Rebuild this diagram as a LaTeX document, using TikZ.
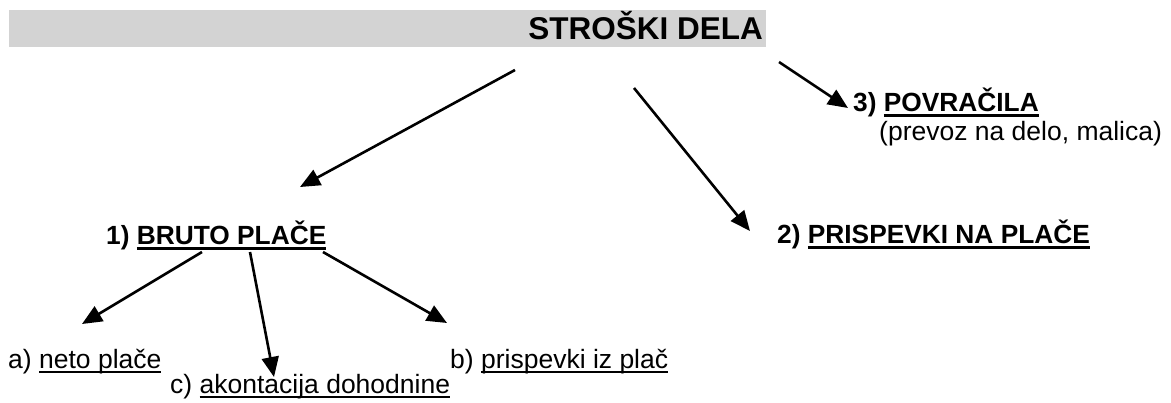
\documentclass[tikz,border=0pt]{standalone}
\usepackage{fontspec}
\setmainfont{Liberation Sans}
\usetikzlibrary{arrows.meta}
\definecolor{bargrey}{RGB}{211,211,211}
\newcommand\ulreg[1]{\setbox0\hbox{#1}\rlap{\rule[-4.5pt]{\wd0}{2pt}}\box0}
\newcommand\ulbold[1]{\setbox0\hbox{#1}\rlap{\rule[-5.5pt]{\wd0}{2.6pt}}\box0}
\begin{document}
\begin{tikzpicture}[x=1pt,y=-1pt,
  lbl/.style={inner sep=0pt, anchor=base west, font=\fontsize{26.5}{30}\selectfont},
  blbl/.style={inner sep=0pt, anchor=base west, font=\fontsize{26.3}{30}\selectfont\bfseries},
  arr/.style={line width=2.6pt, -{Triangle[length=20pt,width=17pt]}}]
\useasboundingbox (0,0) rectangle (1171,402);
\fill[bargrey] (9,10) rectangle (766,47);
\node[inner sep=0pt, anchor=base east, font=\fontsize{31.5}{36}\selectfont\bfseries] (title) at (763,39) {STROŠKI DELA};

\node[blbl] (bruto) at (106,244) {1) \ulbold{BRUTO PLAČE}};
\node[blbl] (prisp) at (777,243) {2) \ulbold{PRISPEVKI NA PLAČE}};
\node[blbl] (povr) at (853,111) {3) \ulbold{POVRAČILA}};
\node[lbl] (povrtxt) at (879,140) {(prevoz na delo, malica)};

\node[lbl] (neto) at (8,368) {a) \ulreg{neto plače}};
\node[lbl] (prisiz) at (450,368) {b) \ulreg{prispevki iz plač}};
\node[lbl] (akon) at (170,393) {c) \ulreg{akontacija dohodnine}};

\coordinate (t1) at (515,70);
\coordinate (t2) at (634,88);
\coordinate (t3) at (779,62);
\coordinate (e1) at (300,187);
\coordinate (e2) at (750,231);
\coordinate (e3) at (848,108);
\coordinate (b1) at (202,252);
\coordinate (b2) at (250,252);
\coordinate (b3) at (323,252);
\coordinate (ea) at (82,324);
\coordinate (ec) at (274,377);
\coordinate (eb) at (447,323);

\draw[arr] (t1) -- (e1);
\draw[arr] (t2) -- (e2);
\draw[arr] (t3) -- (e3);
\draw[arr] (b1) -- (ea);
\draw[arr] (b2) -- (ec);
\draw[arr] (b3) -- (eb);
\end{tikzpicture}
\end{document}
